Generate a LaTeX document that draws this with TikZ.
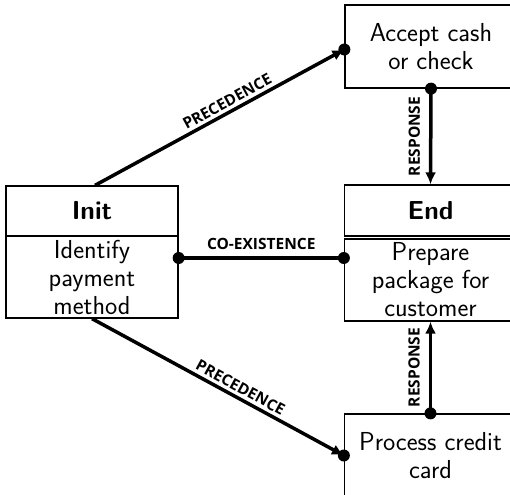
\documentclass[tikz,border=0pt]{standalone}
\usepackage{fontspec}
\newfontfamily\lblfont{Open Sans}
\usetikzlibrary{arrows.meta}
\begin{document}
\begin{tikzpicture}[x=1pt,y=-1pt,
  box/.style={draw, line width=1.3pt, minimum width=172pt, inner sep=0pt, align=center,
    font=\sffamily\fontsize{26}{28}\selectfont},
  titlebox/.style={box, font=\sffamily\bfseries\fontsize{26}{28}\selectfont},
  conn/.style={line width=3.5pt},
  lbl/.style={font=\lblfont\bfseries\fontsize{15.5}{17}\selectfont, inner sep=3pt},
  vlbl/.style={lbl, xshift=-6pt, rotate=90, anchor=south},
  tip/.style={-{Latex[length=12pt,width=11pt]}},
  dot/.style={fill=black}
]
\useasboundingbox (0,0) rectangle (510,494);
\clip (0,0) rectangle (510,494);

\node[titlebox, minimum height=50pt] (inittitle) at (92,211) {Init};
\node[box, minimum height=82pt] (initbody) at (92,277) {Identify\\payment\\method};

\node[box, minimum height=83pt] (accept) at (431,46.5) {Accept cash\\or check};

\node[titlebox, minimum height=51pt] (endtitle) at (430.5,210.5) {End};
\node[box, minimum height=82pt] (endbody) at (430.5,280) {Prepare\\package for\\customer};

\node[box, minimum height=83pt] (process) at (430.5,455.5) {Process credit\\card};

% precedence top
\draw[conn, tip] ([xshift=3pt]inittitle.north) -- node[lbl, sloped, above, pos=0.55] {PRECEDENCE} ([yshift=-3pt]accept.west);
\fill[dot] ([yshift=-3pt]accept.west) circle (6pt);

% co-existence
\coordinate (ca) at ([yshift=19pt]initbody.east);
\coordinate (cb) at (endbody.west |- ca);
\draw[conn] (ca) -- node[lbl, above, yshift=4pt] {CO-EXISTENCE} (cb);
\fill[dot] (ca) circle (6pt);
\fill[dot] (cb) circle (6pt);

% precedence bottom
\draw[conn, tip] (initbody.south) -- node[lbl, sloped, above, pos=0.57] {PRECEDENCE} (process.west);
\fill[dot] (process.west) circle (6pt);

% responses
\draw[conn, tip] (accept.south) -- node[vlbl, midway] {RESPONSE} (endtitle.north);
\fill[dot] (accept.south) circle (6pt);
\draw[conn, tip] (process.north) -- node[vlbl, midway] {RESPONSE} (endbody.south);
\fill[dot] (process.north) circle (6pt);
\end{tikzpicture}
\end{document}
